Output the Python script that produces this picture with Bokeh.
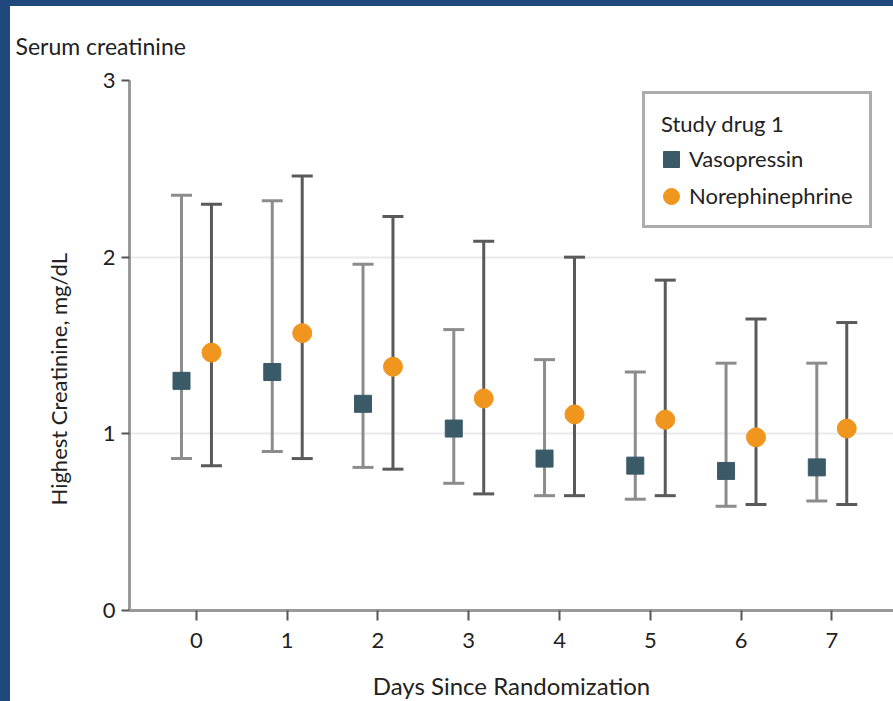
import numpy as np
from bokeh.plotting import figure
from bokeh.models import (Range1d, Whisker, TeeHead, ColumnDataSource, Legend, LegendItem,
                          FixedTicker, Spacer, Title)
from bokeh.layouts import row, column
from bokeh.embed import file_html
from bokeh.resources import INLINE

# ---- data ----
days = [0, 1, 2, 3, 4, 5, 6, 7]
vaso_median = [1.30, 1.35, 1.17, 1.03, 0.86, 0.82, 0.79, 0.81]
vaso_upper = [2.35, 2.32, 1.96, 1.59, 1.42, 1.35, 1.40, 1.40]
vaso_lower = [0.86, 0.90, 0.81, 0.72, 0.65, 0.63, 0.59, 0.62]
nore_median = [1.46, 1.57, 1.38, 1.20, 1.11, 1.08, 0.98, 1.03]
nore_upper = [2.30, 2.46, 2.23, 2.09, 2.00, 1.87, 1.65, 1.63]
nore_lower = [0.82, 0.86, 0.80, 0.66, 0.65, 0.65, 0.60, 0.60]
y_ticks = [0, 1, 2, 3]
title_text = "Serum creatinine"
x_title = "Days Since Randomization"
y_title = "Highest Creatinine, mg/dL"
legend_title = "Study drug 1"
series_names = ["Vasopressin", "Norephinephrine"]

FONT = "Lato"
TXT = "#222222"
BLUE = "#1f497d"
SQ = "#3a5a68"
OR = "#f0961e"

dodge = 0.165
d = np.array(days, dtype=float)
src_v = ColumnDataSource(dict(x=d - dodge, m=vaso_median, u=vaso_upper, l=vaso_lower))
src_n = ColumnDataSource(dict(x=d + dodge, m=nore_median, u=nore_upper, l=nore_lower))

p = figure(width=883, height=704, output_backend="svg", toolbar_location=None,
           x_range=Range1d(-0.738, 7.68), y_range=Range1d(0, 3),
           min_border_left=119, min_border_right=0, min_border_top=74, min_border_bottom=100)
p.outline_line_color = None
p.background_fill_color = "white"
p.border_fill_color = "white"

xb = p.below[0]
yl = p.left[0]

# title
p.title.text = title_text
p.title.align = "left"
p.title.offset = -114
p.title.standoff = 42
p.title.text_font = FONT
p.title.text_font_size = "23px"
p.title.text_font_style = "normal"
p.title.text_color = TXT

# y title as a left-side title (allows shifting along the axis)
p.add_layout(Title(text=y_title, align="left", offset=105, standoff=55,
                   text_font=FONT, text_font_size="22px", text_font_style="normal",
                   text_color=TXT), "left")

# grid
p.xgrid.grid_line_color = None
p.ygrid.grid_line_color = "#e9e9e9"
p.ygrid.grid_line_width = 2
p.ygrid.ticker = FixedTicker(ticks=[1, 2, 3])

# axes
for ax in (xb, yl):
    ax.axis_line_color = "#9a9a9a"
    ax.axis_line_width = 3
    ax.major_tick_line_color = "#555555"
    ax.major_tick_line_width = 2
    ax.major_tick_in = 0
    ax.minor_tick_line_color = None
    ax.major_label_text_font = FONT
    ax.major_label_text_font_size = "22px"
    ax.major_label_text_color = TXT
    ax.axis_label_text_font = FONT
    ax.axis_label_text_font_style = "normal"
    ax.axis_label_text_color = TXT
xb.ticker = FixedTicker(ticks=days)
yl.ticker = FixedTicker(ticks=y_ticks)
xb.major_tick_out = 10
yl.major_tick_out = 8
xb.major_label_standoff = 12
yl.major_label_standoff = 6
xb.axis_label = x_title
xb.axis_label_text_font_size = "24px"
xb.axis_label_standoff = 20

# error bars
p.add_layout(Whisker(source=src_v, base="x", upper="u", lower="l", dimension="height",
                     line_color="#8c8c8c", line_width=3,
                     upper_head=TeeHead(size=21, line_color="#8c8c8c", line_width=3),
                     lower_head=TeeHead(size=21, line_color="#8c8c8c", line_width=3)))
p.add_layout(Whisker(source=src_n, base="x", upper="u", lower="l", dimension="height",
                     line_color="#5a5a5a", line_width=3,
                     upper_head=TeeHead(size=21, line_color="#5a5a5a", line_width=3),
                     lower_head=TeeHead(size=21, line_color="#5a5a5a", line_width=3)))

r_v = p.rect("x", "m", source=src_v, width=17, height=17, width_units="screen",
             height_units="screen", fill_color=SQ, line_color=SQ)
r_n = p.ellipse("x", "m", source=src_n, width=19, height=19, width_units="screen",
                height_units="screen", fill_color=OR, line_color=OR)

legend = Legend(items=[LegendItem(label=series_names[0], renderers=[r_v]),
                       LegendItem(label=series_names[1], renderers=[r_n])],
                location=(513, 382), title=legend_title)
legend.title_text_font = FONT
legend.title_text_font_size = "22px"
legend.title_text_font_style = "normal"
legend.title_text_color = TXT
legend.label_text_font = FONT
legend.label_text_font_size = "22px"
legend.label_text_color = TXT
legend.border_line_color = "#5a5a5a"
legend.border_line_width = 3
legend.background_fill_color = "white"
legend.background_fill_alpha = 1
legend.padding = 16
legend.spacing = 10
legend.glyph_width = 20
legend.glyph_height = 20
legend.label_height = 20
legend.title_standoff = 8
legend.label_standoff = 8
legend.margin = 0
p.add_layout(legend)

left_bar = Spacer(width=10, height=710, styles={"background-color": BLUE})
top_bar = Spacer(width=883, height=6, styles={"background-color": BLUE})
layout = row(left_bar, column(top_bar, p, spacing=0), spacing=0)

open("out.html", "w").write(file_html(layout, INLINE))
